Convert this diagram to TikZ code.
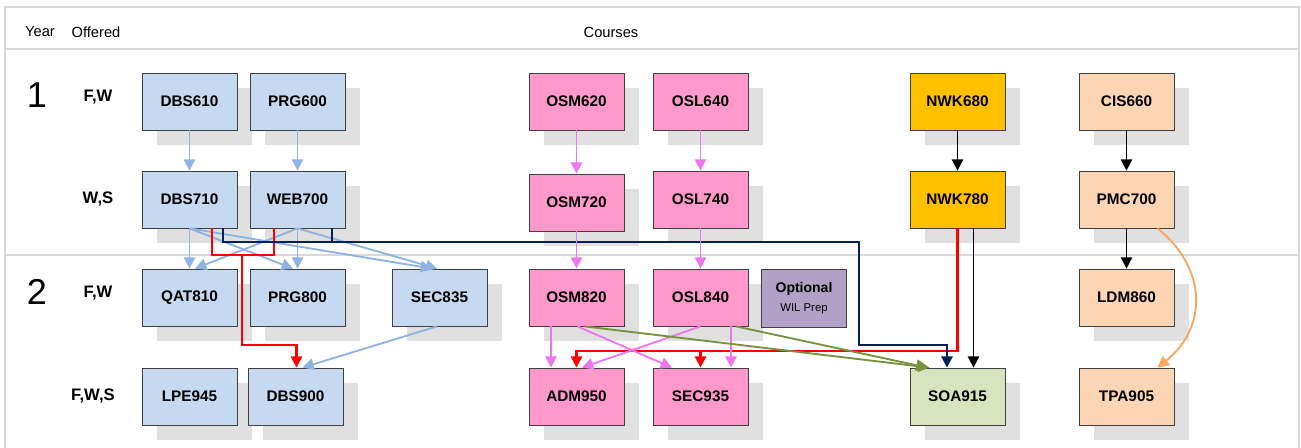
\documentclass[tikz,border=0pt]{standalone}
\usepackage{fontspec}
\setmainfont{Liberation Sans}
\usetikzlibrary{shadows,arrows.meta,calc}

\definecolor{boxblue}{RGB}{197,217,241}
\definecolor{boxpink}{RGB}{255,153,204}
\definecolor{boxgold}{RGB}{255,192,0}
\definecolor{boxpeach}{RGB}{252,213,181}
\definecolor{boxgreen}{RGB}{215,228,189}
\definecolor{boxpurple}{RGB}{178,161,199}
\definecolor{shadowgray}{RGB}{224,224,224}
\definecolor{framegray}{RGB}{217,217,217}
\definecolor{arrblue}{RGB}{141,180,226}
\definecolor{arrpink}{RGB}{238,118,238}
\definecolor{arrgreen}{RGB}{119,147,60}
\definecolor{arrnavy}{RGB}{0,32,96}
\definecolor{arrorange}{RGB}{247,166,100}

\begin{document}
\begin{tikzpicture}[x=0.75pt, y=-0.75pt]

\tikzstyle{course} = [rectangle, draw=black!75, line width=0.6pt, minimum width=71.25pt, minimum height=42.75pt, inner sep=0pt, font=\fontsize{11.5}{13}\selectfont\bfseries, drop shadow={shadow xshift=11.25pt, shadow yshift=-11.25pt, fill=shadowgray, opacity=1}]
\tikzstyle{offered} = [font=\fontsize{12.5}{14}\selectfont\bfseries]
\tikzstyle{yearno} = [font=\fontsize{27}{30}\selectfont]
\tikzstyle{head} = [font=\fontsize{11}{12}\selectfont]
\tikzstyle{frame} = [framegray, line width=1.5pt]
\tikzstyle{tip} = [-{Triangle[length=8.5pt,width=8.5pt]}]
\tikzstyle{bluearr} = [arrblue, line width=1.4pt, tip]
\tikzstyle{pinkarr} = [arrpink, line width=1.4pt, tip]
\tikzstyle{greenarr} = [arrgreen, line width=1.4pt, tip]
\tikzstyle{blackarr} = [black, line width=1.4pt, tip]
\tikzstyle{orangearr} = [arrorange, line width=1.4pt, tip]
\tikzstyle{redline} = [red, line width=1.6pt]
\tikzstyle{navyline} = [arrnavy, line width=1.6pt]

\useasboundingbox (0,0) rectangle (1301,448);

% frame
\draw[frame] (5,448) -- (5,7) -- (1299,7) -- (1299,448);
\draw[frame] (5,49) -- (1299,49);
\draw[frame] (5,255) -- (1299,255);

\node[head] (year) at (40,32) {Year};
\node[head] (offered) at (96,32) {Offered};
\node[head] (courses) at (611,32) {Courses};

\node[yearno] (y1) at (37,95) {1};
\node[yearno] (y2) at (37,292) {2};

\node[offered] (o1) at (98,97) {F,W};
\node[offered] (o2) at (98,199) {W,S};
\node[offered] (o3) at (98,293) {F,W};
\node[offered] (o4) at (93,396) {F,W,S};

% year 1
\node[course, fill=boxblue] (dbs610) at (189.5,101.5) {DBS610};
\node[course, fill=boxblue] (prg600) at (297.5,101.5) {PRG600};
\node[course, fill=boxpink] (osm620) at (576.5,101.5) {OSM620};
\node[course, fill=boxpink] (osl640) at (700.5,101.5) {OSL640};
\node[course, fill=boxgold] (nwk680) at (957.5,101.5) {NWK680};
\node[course, fill=boxpeach] (cis660) at (1126.5,101.5) {CIS660};

\node[course, fill=boxblue] (dbs710) at (189.5,199.5) {DBS710};
\node[course, fill=boxblue] (web700) at (297.5,199.5) {WEB700};
\node[course, fill=boxpink] (osm720) at (576.5,202.5) {OSM720};
\node[course, fill=boxpink] (osl740) at (700.5,199.5) {OSL740};
\node[course, fill=boxgold] (nwk780) at (957.5,199.5) {NWK780};
\node[course, fill=boxpeach] (pmc700) at (1126.5,199.5) {PMC700};

% year 2
\node[course, fill=boxblue] (qat810) at (189.5,297.5) {QAT810};
\node[course, fill=boxblue] (prg800) at (297.5,297.5) {PRG800};
\node[course, fill=boxblue] (sec835) at (439.5,297.5) {SEC835};
\node[course, fill=boxpink] (osm820) at (576.5,297.5) {OSM820};
\node[course, fill=boxpink] (osl840) at (700.5,297.5) {OSL840};
\node[rectangle, draw=black!75, line width=0.6pt, fill=boxpurple, minimum width=63.75pt, minimum height=43.5pt, inner sep=0pt, align=center, font=\fontsize{10.5}{14}\selectfont] (wil) at (804,298) {\bfseries Optional\\{\fontsize{8.5}{10}\selectfont WIL Prep}};
\node[course, fill=boxpeach] (ldm860) at (1126.5,297.5) {LDM860};

\node[course, fill=boxblue] (lpe945) at (189.5,396.5) {LPE945};
\node[course, fill=boxblue] (dbs900) at (295.5,396.5) {DBS900};
\node[course, fill=boxpink] (adm950) at (576.5,396.5) {ADM950};
\node[course, fill=boxpink] (sec935) at (700.5,396.5) {SEC935};
\node[course, fill=boxgreen] (soa915) at (957.5,396.5) {SOA915};
\node[course, fill=boxpeach] (tpa905) at (1126.5,396.5) {TPA905};

% blue links
\draw[bluearr] (dbs610) -- (dbs710);
\draw[bluearr] (prg600) -- (web700);
\draw[bluearr] (dbs710) -- (qat810);
\draw[bluearr] (web700) -- (prg800);
\draw[bluearr] (dbs710.south) -- ($(prg800.north)+(-4.5,0)$);
\draw[bluearr] (dbs710.south) -- ($(sec835.north)+(-7.5,0)$);
\draw[bluearr] (web700.south) -- ($(qat810.north)+(5.5,0)$);
\draw[bluearr] (web700.south) -- ($(sec835.north)+(-2.5,0)$);
\draw[bluearr] ($(sec835.south)+(-2.5,0)$) -- ($(dbs900.north)+(7,0)$);

% red links
\draw[redline] ($(dbs710.south)+(22.5,0)$) |- ($(web700.south)+(-23.5,27)$) -- ($(web700.south)+(-23.5,0)$);
\coordinate (redjoin) at ($(dbs710.south)+(52.5,27)$);
\draw[redline, tip] (redjoin) |- ($(dbs900.north)+(1,-23)$) -- ($(dbs900.north)+(1,0)$);
\draw[redline, tip] (nwk780.south) |- ($(adm950.north)+(0,-17)$) -- (adm950.north);
\draw[redline, tip] ($(sec935.north)+(0,-17)$) -- (sec935.north);

% navy link
\coordinate (navyturn) at (859,242);
\draw[navyline, tip] ($(dbs710.south)+(33.5,0)$) |- (navyturn) |- ($(soa915.north)+(-10.5,-23)$) -- ($(soa915.north)+(-10.5,0)$);
\draw[navyline] ($(web700.south)+(34.5,0)$) -- ++(0,14);

% pink links
\draw[pinkarr] (osm620) -- (osm720);
\draw[pinkarr] (osl640) -- (osl740);
\draw[pinkarr] (osm720) -- (osm820);
\draw[pinkarr] (osl740) -- (osl840);
\draw[pinkarr] ($(osm820.south)+(-25.5,0)$) -- ($(adm950.north)+(-25.5,0)$);
\draw[pinkarr] ($(osm820.south)+(1,0)$) -- ($(sec935.north)+(-28.5,0)$);
\draw[pinkarr] (osl840.south) -- ($(adm950.north)+(5.5,0)$);
\draw[pinkarr] ($(osl840.south)+(30.5,0)$) -- ($(sec935.north)+(30.5,0)$);

% green links
\draw[greenarr] ($(osm820.south)+(8,0)$) -- ($(soa915.north)+(-28,0)$);
\draw[greenarr] ($(osl840.south)+(35.5,0)$) -- ($(soa915.north)+(-30,0)$);

% black links
\draw[blackarr] (nwk680) -- (nwk780);
\draw[blackarr] ($(nwk780.south)+(16,0)$) -- ($(soa915.north)+(16,0)$);
\draw[blackarr] (cis660) -- (pmc700);
\draw[blackarr] (pmc700) -- (ldm860);

% orange link
\draw[orangearr] ($(pmc700.south)+(31,0)$) .. controls +(50,40) and +(50,-40) .. ($(tpa905.north)+(31,0)$);

\end{tikzpicture}
\end{document}
